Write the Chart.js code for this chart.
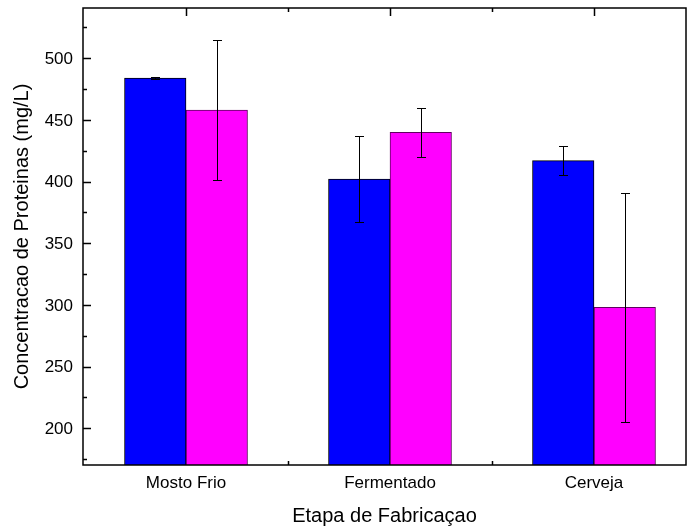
<!DOCTYPE html>
<html>
<head>
<meta charset="utf-8">
<script src="https://cdn.jsdelivr.net/npm/chart.js@4.4.1/dist/chart.umd.min.js"></script>
<style>
  html, body { margin: 0; padding: 0; background: #fff; }
  #wrap { width: 687px; height: 532px; }
</style>
</head>
<body>
<div id="wrap"><canvas id="grafico"></canvas></div>
<script>
// dados
const etapas = ['Mosto Frio', 'Fermentado', 'Cerveja'];
const serieAzul = [484, 402, 417];
const erroAzul = [1, 35, 12];
const serieRosa = [458, 440, 298];
const erroRosa = [57, 20, 93];
const yTicks = [200, 250, 300, 350, 400, 450, 500];

const fonte = "'Liberation Sans', Arial, sans-serif";

// barras de erro, moldura, marcas e textos
const moldura = {
    id: 'moldura',
    beforeDatasetsDraw(chart) {
        const ctx = chart.ctx;
        const x = chart.scales.x;
        const y = chart.scales.y;
        const area = chart.chartArea;
        ctx.save();
        ctx.strokeStyle = '#000';
        ctx.lineWidth = 1.5;
        ctx.beginPath();
        // marcas do eixo y (para dentro)
        yTicks.forEach(t => {
            const py = Math.round(y.getPixelForValue(t)) + 0.5;
            ctx.moveTo(area.left, py);
            ctx.lineTo(area.left + 8, py);
        });
        for (let t = 175; t < y.max; t += 50) {
            const py = Math.round(y.getPixelForValue(t)) + 0.5;
            ctx.moveTo(area.left, py);
            ctx.lineTo(area.left + 4, py);
        }
        // marcas do eixo x
        etapas.forEach((_, i) => {
            const px = Math.round(x.getPixelForValue(i)) + 0.5;
            ctx.moveTo(px, area.top);
            ctx.lineTo(px, area.top + 8);
            ctx.moveTo(px, area.bottom);
            ctx.lineTo(px, area.bottom - 8);
        });
        for (let t = 0.5; t < x.max; t += 1) {
            const px = Math.round(x.getPixelForValue(t)) + 0.5;
            ctx.moveTo(px, area.top);
            ctx.lineTo(px, area.top + 4);
            ctx.moveTo(px, area.bottom);
            ctx.lineTo(px, area.bottom - 4);
        }
        ctx.stroke();
        ctx.restore();
    },
    afterDatasetsDraw(chart) {
        const ctx = chart.ctx;
        const x = chart.scales.x;
        const y = chart.scales.y;
        const area = chart.chartArea;
        const erros = [erroAzul, erroRosa];

        ctx.save();
        ctx.strokeStyle = '#000';
        ctx.lineWidth = 1;
        chart.data.datasets.forEach((ds, di) => {
            const meta = chart.getDatasetMeta(di);
            meta.data.forEach((bar, i) => {
                const v = ds.data[i].y;
                const e = erros[di][i];
                const yt = Math.round(y.getPixelForValue(v + e)) + 0.5;
                const yb = Math.round(y.getPixelForValue(v - e)) + 0.5;
                const xc = Math.round(bar.x) + 0.5;
                ctx.beginPath();
                ctx.moveTo(xc, yt);
                ctx.lineTo(xc, yb);
                ctx.moveTo(xc - 4.5, yt);
                ctx.lineTo(xc + 4.5, yt);
                ctx.moveTo(xc - 4.5, yb);
                ctx.lineTo(xc + 4.5, yb);
                ctx.stroke();
            });
        });

        // moldura
        ctx.lineWidth = 1.5;
        ctx.strokeRect(area.left, area.top, area.right - area.left, area.bottom - area.top);

        // rotulos
        ctx.fillStyle = '#000';
        ctx.font = '17px ' + fonte;
        ctx.textAlign = 'right';
        ctx.textBaseline = 'middle';
        yTicks.forEach(t => {
            ctx.fillText(String(t), area.left - 10, y.getPixelForValue(t) + 1);
        });
        ctx.textAlign = 'center';
        etapas.forEach((nome, i) => {
            ctx.fillText(nome, x.getPixelForValue(i), area.bottom + 18);
        });

        // titulos dos eixos
        ctx.font = '20px ' + fonte;
        ctx.fillText('Etapa de Fabricaçao', (area.left + area.right) / 2, 516);
        ctx.translate(22, (area.top + area.bottom) / 2);
        ctx.rotate(-Math.PI / 2);
        ctx.fillText('Concentracao de Proteinas (mg/L)', 0, 0);
        ctx.restore();
    }
};

new Chart(document.getElementById('grafico'), {
    type: 'bar',
    data: {
        datasets: [
            {
                label: 'Azul',
                data: serieAzul.map((v, i) => ({ x: i, y: v })),
                backgroundColor: '#0000ff',
                borderColor: '#000',
                borderWidth: 1
            },
            {
                label: 'Rosa',
                data: serieRosa.map((v, i) => ({ x: i, y: v })),
                backgroundColor: '#ff00ff',
                borderColor: '#600060',
                borderWidth: 1
            }
        ]
    },
    options: {
        responsive: true,
        maintainAspectRatio: false,
        animation: false,
        barThickness: 61.5,
        layout: {
            padding: { left: 83, right: 1, top: 8, bottom: 67 }
        },
        plugins: {
            legend: { display: false },
            tooltip: { enabled: false }
        },
        scales: {
            x: {
                type: 'linear',
                offset: false,
                min: -0.505,
                max: 2.451,
                display: false
            },
            y: {
                min: 170.2,
                max: 540.8,
                display: false
            }
        }
    },
    plugins: [moldura]
});
</script>
</body>
</html>
